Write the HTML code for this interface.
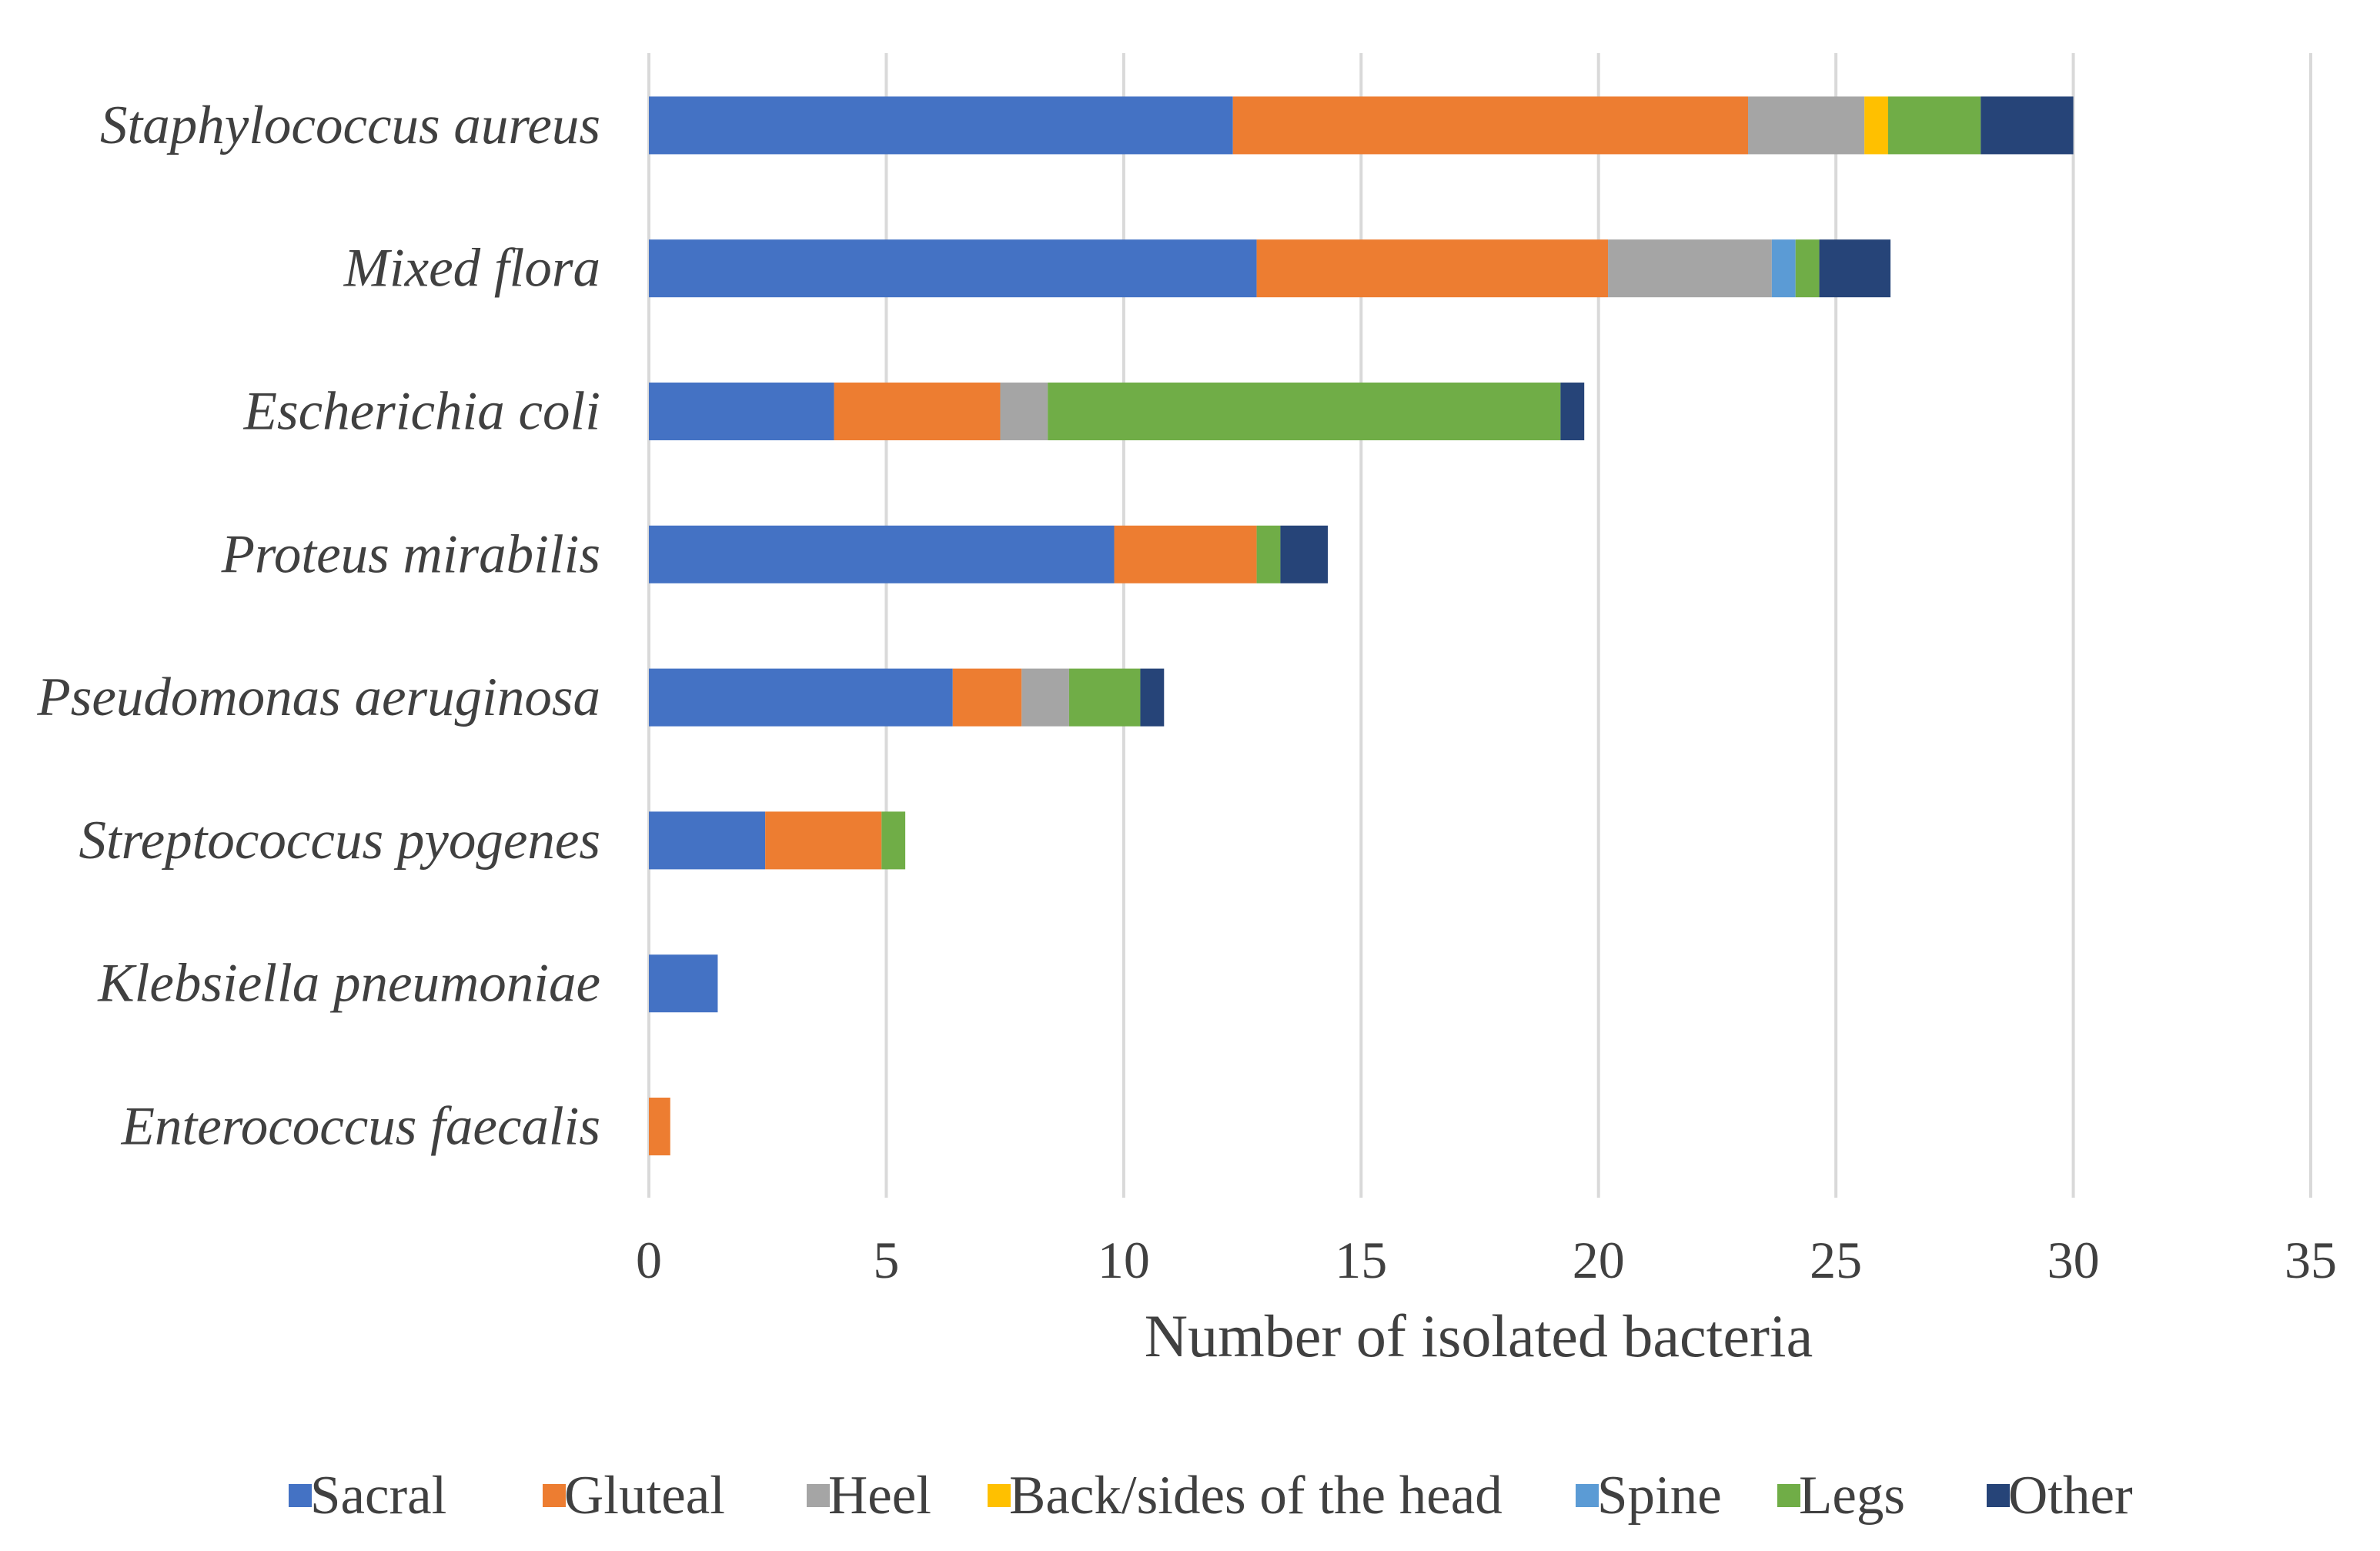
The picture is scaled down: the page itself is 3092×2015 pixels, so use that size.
<!DOCTYPE html>
<html><head><meta charset="utf-8"><style>
html,body{margin:0;padding:0;background:#fff;}
svg{display:block;}
text{font-family:"Liberation Serif",serif;fill:#404040;}
</style></head><body>
<svg id="chart" width="3092" height="2015" viewBox="0 0 3092 2015" xmlns="http://www.w3.org/2000/svg">
<g id="grid"></g>
<g id="bars"></g>
<g id="ylabels"></g>
<g id="xlabels"></g>
<text x="1921" y="1762" font-size="78" text-anchor="middle">Number of isolated bacteria</text>
<g id="legend"></g>
</svg>
<script>
const categories = ["Staphylococcus aureus","Mixed flora","Escherichia coli","Proteus mirabilis","Pseudomonas aeruginosa","Streptococcus pyogenes","Klebsiella pneumoniae","Enterococcus faecalis"];
const seriesNames = ["Sacral","Gluteal","Heel","Back/sides of the head","Spine","Legs","Other"];
const sacral  = [12.3, 12.8, 3.9, 9.8, 6.4, 2.45, 1.45, 0];
const gluteal = [10.85, 7.4, 3.5, 3.0, 1.45, 2.45, 0, 0.45];
const heel    = [2.45, 3.45, 1.0, 0, 1.0, 0, 0, 0];
const backHead= [0.5, 0, 0, 0, 0, 0, 0, 0];
const spine   = [0, 0.5, 0, 0, 0, 0, 0, 0];
const legs    = [1.95, 0.5, 10.8, 0.5, 1.5, 0.5, 0, 0];
const other   = [1.95, 1.5, 0.5, 1.0, 0.5, 0, 0, 0];
const xTicks = [0,5,10,15,20,25,30,35];

const series = [sacral,gluteal,heel,backHead,spine,legs,other];
const colors = ["#4472C4","#ED7D31","#A5A5A5","#FFC000","#5B9BD5","#70AD47","#264478"];
const NS="http://www.w3.org/2000/svg";
const x0=843, x1=3002, xMax=35, gridTop=69, gridBot=1556;
const rowTop=70, rowH=185.8, barH=75;
function xs(v){return x0+(x1-x0)*v/xMax;}
function yc(i){return rowTop+rowH*(i+0.5);}
function mk(tag,attrs,parent){const e=document.createElementNS(NS,tag);for(const k in attrs)e.setAttribute(k,attrs[k]);parent.appendChild(e);return e;}
const grid=document.getElementById('grid'),bars=document.getElementById('bars'),yl=document.getElementById('ylabels'),xl=document.getElementById('xlabels'),lg=document.getElementById('legend');
xTicks.forEach(t=>{
  const l=mk('line',{x1:xs(t),x2:xs(t),y1:gridTop,y2:gridBot,stroke:'#D9D9D9','stroke-width':4},grid);
  
  
  const tx=mk('text',{x:xs(t),y:1660,'font-size':68,'text-anchor':'middle'},xl);
  tx.textContent=t;
  
  
});
categories.forEach((c,i)=>{
  let acc=0;
  series.forEach((s,k)=>{
    const v=s[i];
    if(v>0){
      const r=mk('rect',{x:xs(acc),y:yc(i)-barH/2,width:xs(acc+v)-xs(acc),height:barH,fill:colors[k]},bars);
      
      
    }
    acc+=v;
  });
  const t=mk('text',{x:780,y:yc(i)+23,'font-size':71,'font-style':'italic','text-anchor':'end'},yl);
  t.textContent=c;
  
  
});
const legX=[375,705,1048,1283,2047,2309,2581];
seriesNames.forEach((n,k)=>{
  const r=mk('rect',{x:legX[k],y:1928,width:30,height:30,fill:colors[k]},lg);
  
  
  const t=mk('text',{x:legX[k]+28,y:1966,'font-size':71},lg);
  t.textContent=n;
  
  
});
</script>
</body></html>
